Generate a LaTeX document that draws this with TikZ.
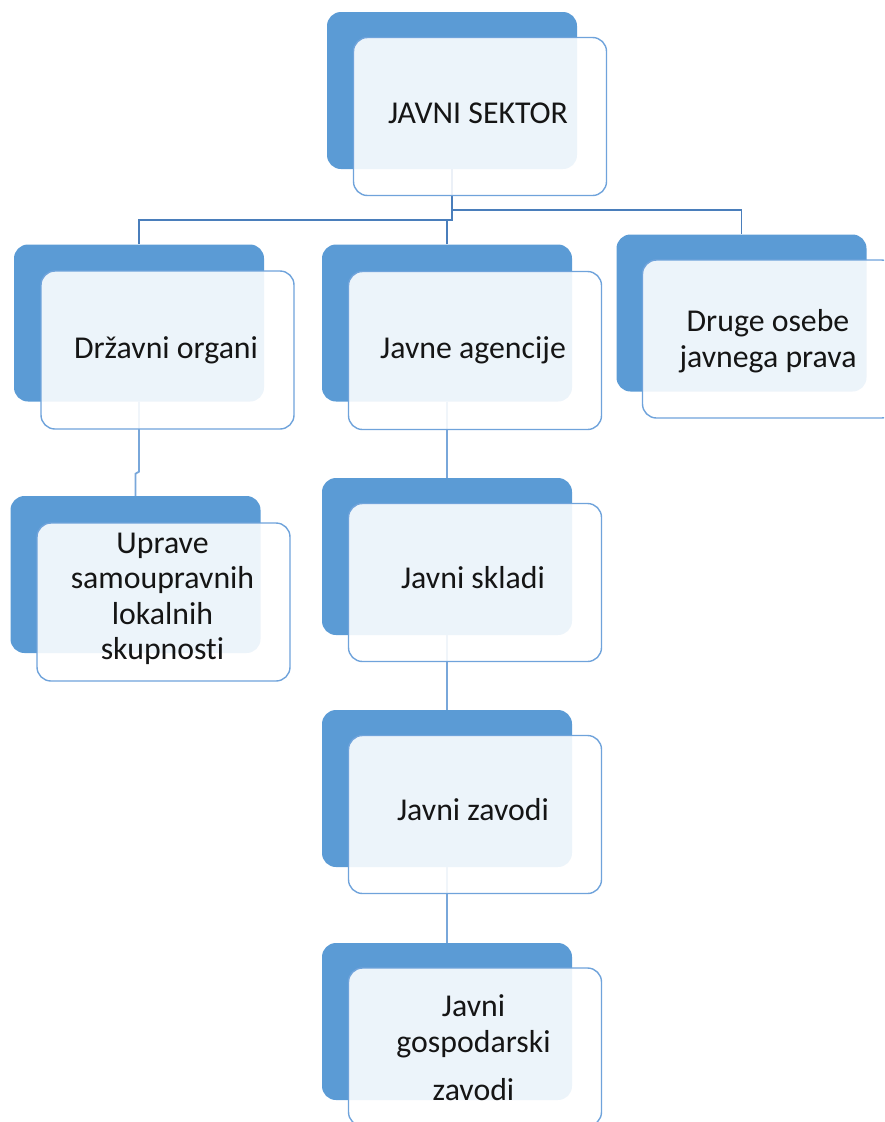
\documentclass[tikz,border=0pt]{standalone}
\usepackage{fontspec}
\setmainfont{Carlito}[Ligatures=NoCommon]
\usetikzlibrary{calc}
\definecolor{backblue}{HTML}{5B9BD5}
\definecolor{frameblue}{HTML}{6FA3DB}
\definecolor{conndark}{HTML}{4A7EBB}
\definecolor{connlight}{HTML}{79A7DA}
\definecolor{txt}{HTML}{151515}
\tikzset{
  backbox/.style={draw=none, fill=backblue, rounded corners=14pt,
    minimum width=250pt, minimum height=157pt, inner sep=0pt},
  frontbox/.style={draw=frameblue, line width=1.4pt, fill=white, fill opacity=0.89,
    rounded corners=14pt, minimum width=253pt, minimum height=158pt, inner sep=0pt},
  label/.style={text=txt, font=\fontsize{31.8}{35.5}\selectfont, align=center, inner sep=0pt},
  conn/.style={draw=conndark, line width=1.6pt},
  connlt/.style={draw=connlight, line width=1.8pt}
}
\begin{document}
\begin{tikzpicture}[x=1pt,y=-1pt]
\useasboundingbox (0,0) rectangle (884,1122);
\clip (0,0) rectangle (884,1122);
% back boxes
\node[backbox] (tb) at (452,90.5) {};
\node[backbox] (db) at (139,323) {};
\node[backbox] (ab) at (447,323) {};
\node[backbox] (ob) at (741.5,313) {};
\node[backbox] (ub) at (135.5,574.5) {};
\node[backbox] (sb) at (447,556.5) {};
\node[backbox] (zb) at (447,788.5) {};
\node[backbox] (gb) at (447,1021.5) {};
% connectors
\draw[conn] (tb.south) -- ++(0,51) -| (db.north);
\draw[conn] ($(tb.south)+(0,41)$) -| (ob.north);
\draw[conn] (ab.north) -- ++(0,-24);
\draw[connlt] (db.south) -- ++(0,70) -- ++(-3.5,2) -- (ub.north);
\draw[connlt] (ab.south) -- (sb.north);
\draw[connlt] (sb.south) -- (zb.north);
\draw[connlt] (zb.south) -- (gb.north);
% front boxes
\node[frontbox] (tf) at (480,116.5) {};
\node[frontbox] (df) at (167.5,350) {};
\node[frontbox] (af) at (475,350.5) {};
\node[frontbox] (of) at (769,339) {};
\node[frontbox] (uf) at (163.5,602) {};
\node[frontbox] (sf) at (475,582.5) {};
\node[frontbox] (zf) at (475,814.5) {};
\node[frontbox] (gf) at (475,1047) {};
% labels
\node[label, anchor=base] (tl) at (478,123) {JAVNI SEKTOR};
\node[label, anchor=base] (dl) at (166,358) {Državni organi};
\node[label, anchor=base] (al) at (473,358) {Javne agencije};
\node[label] (ol) at (768,341) {Druge osebe\\javnega prava};
\node[label] (ul) at (162.5,599) {Uprave\\samoupravnih\\lokalnih\\skupnosti};
\node[label, anchor=base] (sl) at (473,588) {Javni skladi};
\node[label, anchor=base] (zl) at (473,820) {Javni zavodi};
\node[label] (gl) at (473.5,1048) {Javni\\gospodarski\\[13pt]zavodi};
\end{tikzpicture}
\end{document}
